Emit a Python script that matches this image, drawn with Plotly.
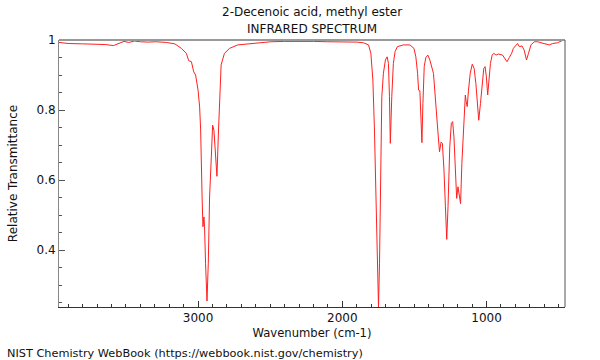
import plotly.graph_objects as go

# Traced spectrum (wavenumber cm-1, relative transmittance)
wavenumber = [3964, 3900, 3800, 3700, 3640, 3587, 3550, 3514, 3480, 3440, 3400, 3350, 3290, 3220,
              3161, 3115, 3081, 3065, 3046, 3030, 3017, 3000, 2989, 2982, 2972, 2966, 2959, 2955,
              2948, 2938, 2929, 2920, 2908, 2899, 2890, 2879, 2869, 2858, 2848, 2840, 2817, 2782,
              2725, 2633, 2495, 2400, 2300, 2200, 2100, 2013, 1900, 1853, 1818, 1802, 1788, 1777,
              1765, 1756, 1749, 1742, 1735, 1726, 1715, 1701, 1689, 1680, 1673, 1667, 1657, 1646,
              1634, 1618, 1577, 1531, 1503, 1490, 1478, 1471, 1462, 1455, 1448, 1441, 1432, 1421,
              1407, 1393, 1379, 1368, 1359, 1347, 1338, 1326, 1315, 1306, 1295, 1285, 1276, 1267,
              1255, 1244, 1235, 1226, 1216, 1207, 1198, 1191, 1180, 1171, 1159, 1147, 1141, 1134,
              1125, 1113, 1099, 1086, 1074, 1063, 1054, 1042, 1030, 1019, 1010, 1001, 992, 982,
              973, 961, 950, 934, 918, 889, 872, 858, 842, 826, 814, 801, 785, 773, 754, 739,
              723, 709, 692, 669, 646, 622, 588, 565, 542, 508, 477, 456]
transmittance = [0.993, 0.990, 0.989, 0.988, 0.987, 0.984, 0.990, 0.996, 0.993, 0.997, 0.995, 0.994, 0.995, 0.993,
                 0.989, 0.976, 0.962, 0.941, 0.938, 0.909, 0.900, 0.857, 0.809, 0.743, 0.552, 0.467, 0.495, 0.467,
                 0.363, 0.255, 0.363, 0.552, 0.666, 0.757, 0.743, 0.666, 0.611, 0.743, 0.857, 0.929, 0.962, 0.976,
                 0.986, 0.990, 0.995, 0.996, 0.997, 0.996, 0.995, 0.995, 0.994, 0.992, 0.986, 0.962, 0.886, 0.743,
                 0.552, 0.363, 0.238, 0.363, 0.648, 0.838, 0.905, 0.943, 0.952, 0.933, 0.838, 0.705, 0.838, 0.933,
                 0.967, 0.981, 0.986, 0.986, 0.976, 0.952, 0.905, 0.857, 0.855, 0.790, 0.707, 0.819, 0.924, 0.950,
                 0.957, 0.943, 0.924, 0.905, 0.857, 0.781, 0.743, 0.681, 0.709, 0.705, 0.629, 0.524, 0.431, 0.524,
                 0.695, 0.762, 0.767, 0.724, 0.629, 0.548, 0.581, 0.562, 0.533, 0.648, 0.762, 0.843, 0.824, 0.810,
                 0.857, 0.905, 0.931, 0.919, 0.876, 0.819, 0.771, 0.819, 0.886, 0.919, 0.924, 0.895, 0.843, 0.886,
                 0.933, 0.957, 0.962, 0.957, 0.960, 0.957, 0.948, 0.938, 0.950, 0.962, 0.976, 0.981, 0.990, 0.981, 0.983, 0.971,
                 0.943, 0.962, 0.986, 0.995, 0.995, 0.992, 0.989, 0.986, 0.990, 0.992, 0.998, 1.000]

x_range = [3964, 456]
y_range = [0.238, 1.0]
y_ticks = [0.4, 0.6, 0.8, 1.0]
y_tick_labels = ["0.4", "0.6", "0.8", "1"]
x_ticks = [1000, 2000, 3000]

FONT = "DejaVu Sans"

fig = go.Figure()
fig.add_trace(go.Scatter(x=wavenumber, y=transmittance, mode="lines",
                         line=dict(color="#ff2020", width=1), showlegend=False,
                         hoverinfo="skip"))

fig.update_layout(
    width=600, height=360,
    margin=dict(l=57, r=35, t=40, b=53),
    plot_bgcolor="white", paper_bgcolor="white",
    font=dict(family=FONT, size=11, color="#111"),
    showlegend=False,
)
fig.update_xaxes(
    range=x_range, showgrid=False, zeroline=False,
    showline=True, linecolor="#333", linewidth=1,
    ticks="inside", ticklen=6, tickcolor="#333",
    tickvals=x_ticks, ticktext=[str(v) for v in x_ticks],
    minor=dict(ticks="inside", ticklen=3, dtick=100, tick0=0, tickcolor="#333"),
    title=dict(text="Wavenumber (cm-1)", font=dict(size=11.6), standoff=4),
    tickfont=dict(size=12),
)
fig.update_yaxes(
    range=y_range, showgrid=False, zeroline=False,
    showline=True, linecolor="#888", linewidth=1,
    ticks="inside", ticklen=6, tickcolor="#555",
    tickvals=y_ticks, ticktext=y_tick_labels,
    minor=dict(ticks="inside", ticklen=3, dtick=0.05, tick0=0, tickcolor="#555"),
    title=dict(text="Relative Transmittance", font=dict(size=12), standoff=16),
    tickfont=dict(size=12),
)
# top and right frame lines
fig.add_shape(type="line", xref="paper", yref="paper", x0=0, x1=1, y0=1, y1=1,
              line=dict(color="#999", width=2))
fig.add_shape(type="line", xref="paper", yref="paper", x0=1, x1=1, y0=0, y1=1,
              line=dict(color="#555", width=1))

fig.add_annotation(text="2-Decenoic acid, methyl ester", xref="paper", yref="paper",
                   x=0.5, y=1, yshift=28, showarrow=False, font=dict(size=12), yanchor="middle")
fig.add_annotation(text="INFRARED SPECTRUM", xref="paper", yref="paper",
                   x=0.5, y=1, yshift=11, showarrow=False, font=dict(size=12), yanchor="middle")
fig.add_annotation(text="NIST Chemistry WebBook (https://webbook.nist.gov/chemistry)",
                   xref="paper", yref="paper", x=0, y=0, xshift=-54, yshift=-46,
                   xanchor="left", yanchor="middle", showarrow=False, font=dict(size=11.3))

fig.write_html("out.html", config={"displayModeBar": False},
               post_script="document.body.style.margin='0';")
